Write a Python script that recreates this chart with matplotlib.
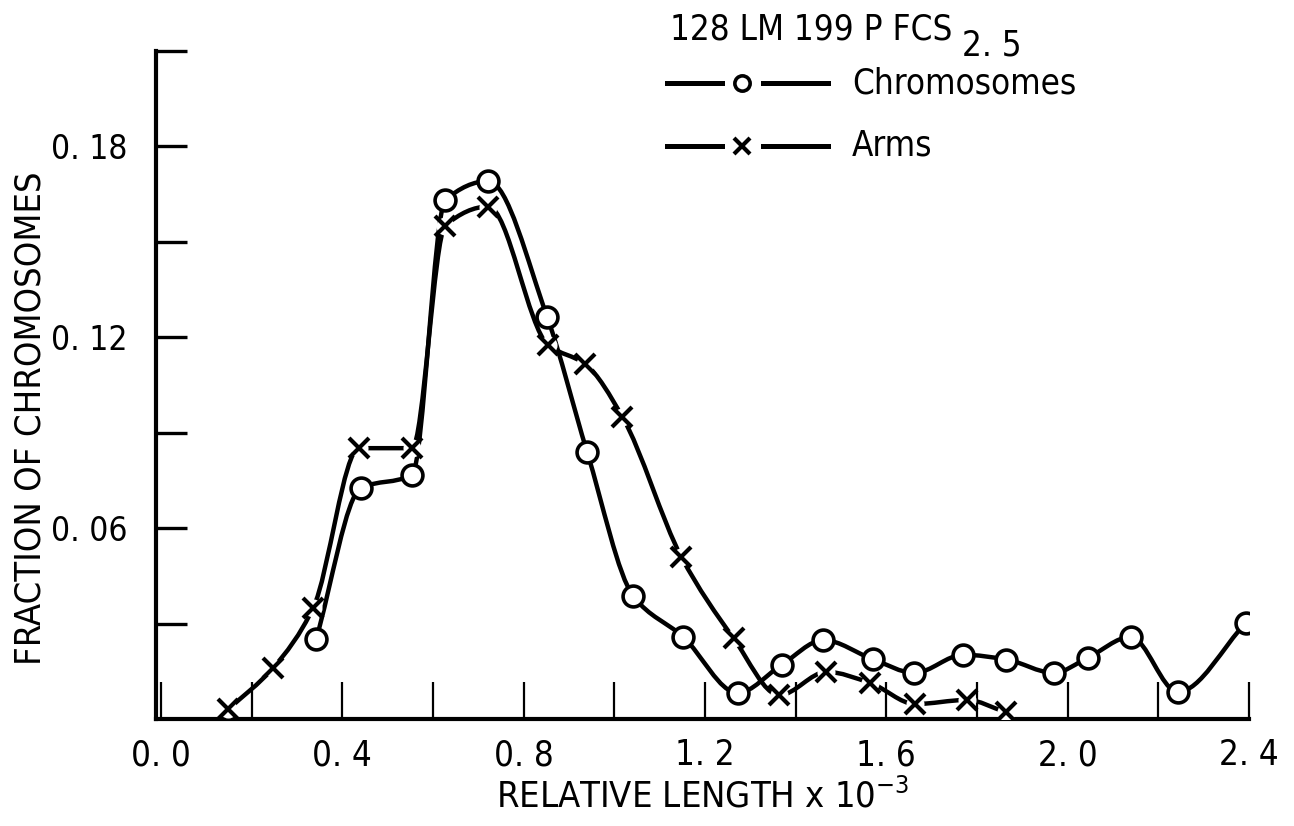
import matplotlib
matplotlib.use("Agg")
import matplotlib.pyplot as plt
from matplotlib.path import Path
from matplotlib.patches import PathPatch
from matplotlib.lines import Line2D
import numpy as np

plt.rcParams['font.family'] = ['DejaVu Sans']
plt.rcParams['font.stretch'] = 'condensed'
plt.rcParams['mathtext.fontset'] = 'custom'
plt.rcParams['mathtext.rm'] = 'DejaVu Sans:stretch=condensed'
plt.rcParams['mathtext.default'] = 'regular'

# relative length (x 10^-3) and fraction for each histogram class
chrom_x = [0.342, 0.441, 0.554, 0.627, 0.722, 0.852, 0.940, 1.042, 1.152, 1.272, 1.369,
           1.461, 1.570, 1.662, 1.770, 1.865, 1.969, 2.044, 2.139, 2.243, 2.393]
chrom_y = [0.025, 0.0726, 0.0767, 0.163, 0.169, 0.1263, 0.0839, 0.0386, 0.0258, 0.0082, 0.017,
           0.0248, 0.0188, 0.0145, 0.0202, 0.0187, 0.0145, 0.0192, 0.0258, 0.0085, 0.0302]

arms_x = [0.148, 0.247, 0.336, 0.437, 0.554, 0.627, 0.722, 0.854, 0.936, 1.018, 1.148,
          1.263, 1.364, 1.468, 1.565, 1.664, 1.777, 1.863]
arms_y = [0.003, 0.016, 0.035, 0.0851, 0.0851, 0.155, 0.161, 0.1175, 0.1115, 0.0949, 0.0509,
          0.0254, 0.0075, 0.0148, 0.0113, 0.0047, 0.006, 0.0022]

x_ticks = [0.0, 0.4, 0.8, 1.2, 1.6, 2.0, 2.4]
x_labels = ['0. 0', '0. 4', '0. 8', '1. 2', '1. 6', '2. 0', '2. 4']
y_ticks = [0.06, 0.12, 0.18]
y_labels = ['0. 06', '0. 12', '0. 18']

title = '128 LM 199 P FCS'
title_sub = '2. 5'
series_names = ['Chromosomes', 'Arms']


def smooth_path(xs, ys):
    # monotone cubic (fritsch-carlson) through the points, as bezier segments
    x = np.asarray(xs, float)
    y = np.asarray(ys, float)
    h = np.diff(x)
    d = np.diff(y) / h
    m = np.zeros_like(y)
    m[0], m[-1] = d[0], d[-1]
    for i in range(1, len(x) - 1):
        if d[i - 1] * d[i] > 0:
            w1 = 2 * h[i] + h[i - 1]
            w2 = h[i] + 2 * h[i - 1]
            m[i] = (w1 + w2) / (w1 / d[i - 1] + w2 / d[i])
    verts = [(x[0], y[0])]
    codes = [Path.MOVETO]
    for i in range(len(x) - 1):
        verts += [(x[i] + h[i] / 3, y[i] + m[i] * h[i] / 3),
                  (x[i + 1] - h[i] / 3, y[i + 1] - m[i + 1] * h[i] / 3),
                  (x[i + 1], y[i + 1])]
        codes += [Path.CURVE4] * 3
    return Path(verts, codes)


fig = plt.figure(figsize=(12.94, 8.26), dpi=100)
ax = fig.add_axes([0.1209, 0.1295, 0.8443, 0.8092])
ax.set_xlim(-0.01, 2.4)
ax.set_ylim(0, 0.21)

lw = 3.2
ax.add_patch(PathPatch(smooth_path(chrom_x, chrom_y), fill=False, lw=lw, color='k',
                       capstyle='round', zorder=2))
ax.add_patch(PathPatch(smooth_path(arms_x, arms_y), fill=False, lw=lw, color='k',
                       capstyle='round', zorder=2))

ax.plot(chrom_x, chrom_y, ls='none', marker='o', ms=15, mfc='white', mec='k', mew=2.6,
        zorder=4)
# white halo so the curve breaks around each cross
ax.plot(arms_x, arms_y, ls='none', marker='o', ms=13, mfc='white', mec='none', zorder=3)
ax.plot(arms_x, arms_y, ls='none', marker='x', ms=14, mec='k', mew=3.0, zorder=5)

for s in ['top', 'right']:
    ax.spines[s].set_visible(False)
for s in ['left', 'bottom']:
    ax.spines[s].set_linewidth(3.0)
ax.spines['left'].set_bounds(0, 0.21)

ax.set_xticks(x_ticks)
ax.set_xticklabels(x_labels)
ax.set_xticks(np.arange(0.2, 2.41, 0.4), minor=True)
ax.set_yticks(y_ticks)
ax.set_yticklabels(y_labels)
ax.set_yticks([0.03, 0.09, 0.15, 0.21], minor=True)

ax.tick_params(axis='x', which='both', direction='in', length=27, width=1.6, pad=14,
               labelsize=25)
ax.tick_params(axis='y', which='both', direction='in', length=22, width=2.4, pad=21,
               labelsize=24)

ax.set_xlabel('RELATIVE LENGTH x 10$^{-3}$', fontsize=26, labelpad=4)

W, H = 1294.0, 826.0
fig.text(31 / W, 1 - 418 / H, 'FRACTION OF CHROMOSOMES', fontsize=26, rotation=90,
         ha='center', va='center')

# legend block drawn in pixel coordinates of the figure
t = fig.text(670 / W, 1 - 39 / H, title, fontsize=25, va='baseline', ha='left')
ax.annotate(title_sub, xy=(1, 0), xycoords=t, xytext=(7, -7), textcoords='offset points',
            fontsize=25, va='baseline', ha='left', annotation_clip=False)

for yy, mk, name in [(83, 'o', series_names[0]), (146, 'x', series_names[1])]:
    for x0, x1 in [(667, 722), (763, 828)]:
        fig.add_artist(Line2D([x0 / W, x1 / W], [1 - yy / H, 1 - yy / H], lw=3.6, color='k',
                              transform=fig.transFigure))
    if mk == 'o':
        fig.add_artist(Line2D([742 / W], [1 - yy / H], marker='o', ms=11, mfc='white', mec='k',
                              mew=2.6, transform=fig.transFigure))
    else:
        fig.add_artist(Line2D([742 / W], [1 - yy / H], marker='x', ms=11, mec='k', mew=3.0,
                              transform=fig.transFigure))
    fig.text(852 / W, 1 - yy / H, name, fontsize=25, va='center', ha='left')

fig.savefig('out.png', dpi=100)
